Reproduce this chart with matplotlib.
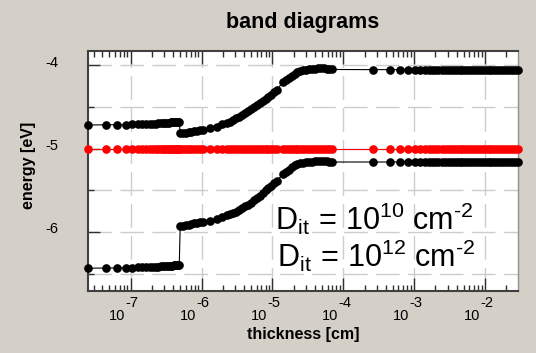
import matplotlib
matplotlib.use('Agg')
import matplotlib.pyplot as plt
from matplotlib.ticker import FixedLocator, LogLocator, NullFormatter
from matplotlib.transforms import ScaledTranslation

plt.rcParams['font.family'] = ['Liberation Sans', 'DejaVu Sans']
plt.rcParams['mathtext.fontset'] = 'custom'
plt.rcParams['mathtext.rm'] = 'Liberation Sans'
plt.rcParams['mathtext.it'] = 'Liberation Sans:italic'

# mesh points (thickness, cm)
x_layer1 = [2.5e-8, 4.5e-8, 6.5e-8, 8.5e-8, 1.05e-7, 1.25e-7, 1.45e-7, 1.65e-7,
            1.85e-7, 2.05e-7, 2.25e-7, 2.45e-7, 2.65e-7, 2.85e-7, 3.05e-7, 3.25e-7,
            3.45e-7, 3.65e-7, 3.85e-7, 4.05e-7, 4.25e-7, 4.45e-7, 4.65e-7, 4.85e-7]
x_layer2 = [5.0e-7, 5.5e-7, 6.0e-7, 6.6e-7, 7.2e-7, 7.9e-7, 8.7e-7, 9.6e-7, 1.06e-6,
            1.32e-6, 1.64e-6, 1.95e-6, 2.30e-6,
            2.53e-6, 2.8e-6, 3.1e-6, 3.4e-6, 3.75e-6, 4.1e-6, 4.5e-6, 5.0e-6, 5.5e-6,
            6.0e-6, 6.6e-6, 7.3e-6, 8.0e-6, 8.8e-6, 9.7e-6, 1.06e-5, 1.15e-5,
            1.42e-5, 1.55e-5, 1.7e-5, 1.87e-5, 2.05e-5, 2.25e-5, 2.48e-5, 2.72e-5,
            3.0e-5, 3.3e-5, 3.6e-5, 4.0e-5, 4.4e-5, 4.8e-5, 5.3e-5, 5.8e-5, 6.3e-5, 6.9e-5]
x_bulk = [2.6e-4, 4.5e-4, 6.4e-4, 8.3e-4, 1.02e-3, 1.21e-3, 1.4e-3, 1.6e-3, 1.8e-3,
          2.0e-3, 2.2e-3, 2.45e-3, 2.7e-3, 3.0e-3, 3.3e-3, 3.6e-3, 4.0e-3, 4.4e-3,
          4.8e-3, 5.3e-3, 5.8e-3, 6.4e-3, 7.0e-3, 7.7e-3, 8.5e-3, 9.3e-3, 1.02e-2,
          1.12e-2, 1.23e-2, 1.35e-2, 1.48e-2, 1.63e-2, 1.8e-2, 1.98e-2, 2.18e-2,
          2.4e-2, 2.65e-2, 2.9e-2]

# energies (eV)
ec_layer1 = [-4.715, -4.713, -4.712, -4.710, -4.708, -4.706, -4.705, -4.703,
             -4.701, -4.699, -4.698, -4.696, -4.694, -4.692, -4.691, -4.689,
             -4.687, -4.685, -4.684, -4.682, -4.680, -4.678, -4.677, -4.675]
ev_layer1 = [-6.436, -6.434, -6.433, -6.431, -6.429, -6.427, -6.426, -6.424,
             -6.422, -6.420, -6.419, -6.417, -6.415, -6.413, -6.412, -6.410,
             -6.408, -6.406, -6.405, -6.403, -6.401, -6.399, -6.398, -6.396]
ec_layer2 = [-4.814, -4.811, -4.807, -4.803, -4.798, -4.792, -4.786, -4.780, -4.775,
             -4.754, -4.735, -4.709, -4.689,
             -4.675, -4.660, -4.637, -4.617, -4.593, -4.568, -4.552, -4.527, -4.498,
             -4.475, -4.452, -4.428, -4.400, -4.378, -4.351, -4.318, -4.294,
             -4.197, -4.172, -4.148, -4.128, -4.105, -4.082, -4.070, -4.058,
             -4.050, -4.044, -4.041, -4.038, -4.036, -4.035, -4.036, -4.040, -4.044, -4.048]
ev_layer2 = [-5.928, -5.925, -5.919, -5.912, -5.904, -5.897, -5.889, -5.882, -5.876,
             -5.864, -5.848, -5.822, -5.798,
             -5.784, -5.771, -5.758, -5.735, -5.710, -5.688, -5.672, -5.647, -5.620,
             -5.596, -5.565, -5.530, -5.495, -5.470, -5.446, -5.417, -5.387,
             -5.303, -5.278, -5.250, -5.224, -5.200, -5.181, -5.175, -5.168,
             -5.162, -5.158, -5.155, -5.152, -5.150, -5.149, -5.150, -5.153, -5.157, -5.160]
ec_bulk = -4.05
ev_bulk = -5.16
ef_level = -5.0

decades = [-7, -6, -5, -4, -3, -2]
ytick_vals = [-6, -5, -4]
ytick_labels = ['-6', '-5', '-4']
yminor_vals = [-6.5, -5.5, -4.5]
dit_labels = [r'$\mathregular{D_{it}\,=\,10^{10}\ cm^{\text{-}2}}$',
              r'$\mathregular{D_{it}\,=\,10^{12}\ cm^{\text{-}2}}$']

thickness = x_layer1 + x_layer2 + x_bulk
ec = ec_layer1 + ec_layer2 + [ec_bulk] * len(x_bulk)
ev = ev_layer1 + ev_layer2 + [ev_bulk] * len(x_bulk)
ef = [ef_level] * len(thickness)

bg = '#d4d0c8'
fig = plt.figure(figsize=(5.36, 3.53), dpi=100, facecolor=bg)
ax = fig.add_axes([88/536, 1 - 291/353, 430/536, 240/353])
ax.set_facecolor('white')

ms = 5.2
ax.plot(thickness, ec, color='black', lw=0.8, marker='o', ms=ms, clip_on=False, zorder=3)
ax.plot(thickness, ef, color='red', lw=0.8, marker='o', ms=ms, clip_on=False, zorder=3)
ax.plot(thickness, ev, color='black', lw=0.8, marker='o', ms=ms, clip_on=False, zorder=3)

ax.set_xscale('log')
ax.set_xlim(2.5e-8, 2.92e-2)
ax.set_ylim(-6.71, -3.826)

ax.xaxis.set_major_locator(FixedLocator([10.0 ** d for d in decades]))
ax.xaxis.set_minor_locator(LogLocator(base=10, subs=range(2, 10), numticks=100))
ax.xaxis.set_major_formatter(NullFormatter())
ax.xaxis.set_minor_formatter(NullFormatter())
ax.set_yticks(ytick_vals)
ax.set_yticklabels(ytick_labels, fontsize=10.5)
ax.set_yticks(yminor_vals, minor=True)

ax.tick_params(axis='x', which='major', direction='in', length=9.5, width=1,
               top=True, bottom=True, color='#303030')
ax.tick_params(axis='x', which='minor', direction='in', length=4, width=1,
               top=True, bottom=True, color='#303030')
ax.tick_params(axis='y', which='major', direction='in', length=8.6, width=1,
               left=True, right=False, color='#303030', pad=21)
ax.tick_params(axis='y', which='minor', direction='in', length=4.3, width=1,
               left=True, right=False, color='#303030')
for lab in ax.get_yticklabels():
    lab.set_transform(lab.get_transform() + ScaledTranslation(0, 3/72, fig.dpi_scale_trans))

grid_style = dict(color='#cccccc', linewidth=1.0, linestyle=(0, (17, 6)))
ax.grid(True, which='major', axis='x', **grid_style)
ax.grid(True, which='both', axis='y', **grid_style)

for side in ['left', 'bottom', 'top']:
    ax.spines[side].set_color('#404040')
    ax.spines[side].set_linewidth(1.5)
ax.spines['right'].set_color('#909090')
ax.spines['right'].set_linewidth(1.0)

# decade labels: "10" with the exponent set above, centred on the tick
for d in decades:
    ax.annotate('10', xy=(10.0 ** d, 0), xycoords=('data', 'axes fraction'),
                xytext=(-5, -29), textcoords='offset pixels',
                ha='right', va='baseline', fontsize=10.5)
    ax.annotate(str(d), xy=(10.0 ** d, 0), xycoords=('data', 'axes fraction'),
                xytext=(1.5, -16), textcoords='offset pixels',
                ha='center', va='baseline', fontsize=10.5)

ax.set_title('band diagrams', fontsize=15.5, fontweight='bold', pad=16.5)
ax.set_xlabel('thickness [cm]', fontsize=11.5, fontweight='bold')
ax.xaxis.set_label_coords(0.5, -0.148)
ax.set_ylabel('energy [eV]', fontsize=11.5, fontweight='bold')
ax.yaxis.set_label_coords(-0.122, 0.525)

ax.text(0.435, 0.254, dit_labels[0], transform=ax.transAxes, fontsize=22,
        ha='left', va='baseline', zorder=4)
ax.text(0.440, 0.100, dit_labels[1], transform=ax.transAxes, fontsize=22,
        ha='left', va='baseline', zorder=4)

fig.savefig('out.png', dpi=100, facecolor=bg)
